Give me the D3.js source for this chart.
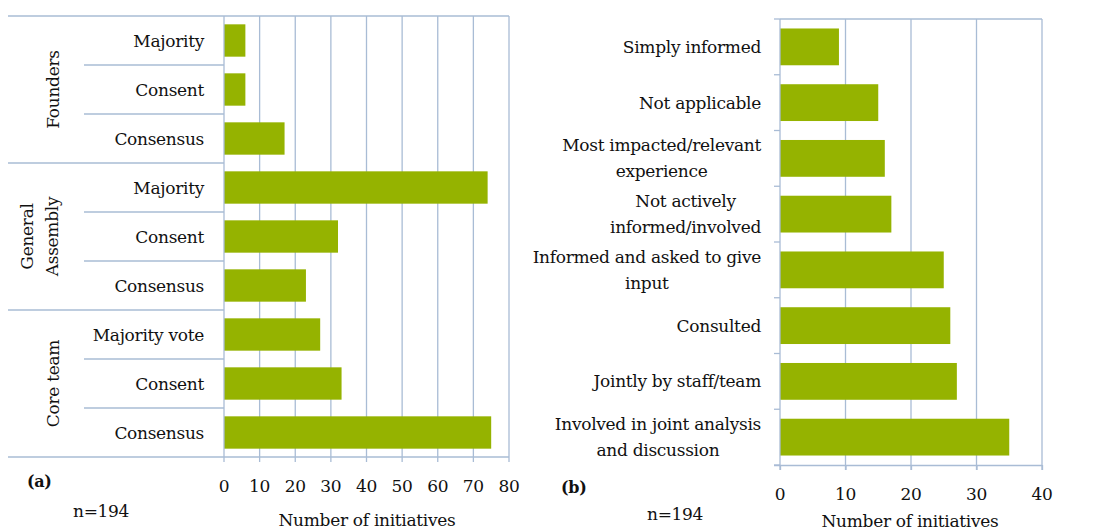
<!DOCTYPE html>
<html>
<head>
<meta charset="utf-8">
<script src="https://cdn.jsdelivr.net/npm/d3@7"></script>
<style>
	body { margin: 0; background: #ffffff; }
</style>
</head>
<body>
<svg id="chart"></svg>
<script>
// ========== DATA ==========
var groupsA = ['Founders', 'General Assembly', 'Core team'];
var methodsA = ['Majority', 'Consent', 'Consensus', 'Majority', 'Consent', 'Consensus', 'Majority vote', 'Consent', 'Consensus'];
var groupOfRowA = [0, 0, 0, 1, 1, 1, 2, 2, 2];
var valuesA = [6, 6, 17, 74, 32, 23, 27, 33, 75];
var ticksA = [0, 10, 20, 30, 40, 50, 60, 70, 80];

var labelsB = ['Simply informed', 'Not applicable', 'Most impacted/relevant|experience', 'Not actively|informed/involved',
	'Informed and asked to give|input', 'Consulted', 'Jointly by staff/team', 'Involved in joint analysis|and discussion'];
var valuesB = [9, 15, 16, 17, 25, 26, 27, 35];
var ticksB = [0, 10, 20, 30, 40];

var sampleNote = 'n=194';
var axisTitle = 'Number of initiatives';

makeChart();

function makeChart() {
	// ========== CONSTANTS ==========
	var width = 1101;
	var height = 532;
	var barColor = '#95b300';
	var gridColor = '#a9bcd5';
	var fontSize = 17;
	var fontFamily = "'DejaVu Serif', serif";

	var svg = d3.select('svg#chart')
		.attr('width', width)
		.attr('height', height)
		.style('font-family', fontFamily)
		.style('letter-spacing', '-0.3px')
		.attr('fill', '#111111');

	// ========== PANEL A ==========
	var xA = d3.scaleLinear()
		.domain([0, 80])
		.range([224, 509]);
	var yA = d3.scaleBand()
		.domain(d3.range(methodsA.length))
		.range([16, 457]);
	var barA = yA.bandwidth() * 0.66;

	var panelA = svg.append('g');

	// vertical grid lines
	panelA.selectAll('.gridA')
		.data(ticksA.slice(1))
		.enter().append('line')
		.attr('x1', function(d) { return xA(d); })
		.attr('x2', function(d) { return xA(d); })
		.attr('y1', 16)
		.attr('y2', 462)
		.attr('stroke', gridColor)
		.attr('stroke-width', 1.3);

	// bars
	panelA.selectAll('.barA')
		.data(valuesA)
		.enter().append('rect')
		.attr('x', xA(0))
		.attr('y', function(d, i) { return yA(i) + (yA.bandwidth() - barA) / 2; })
		.attr('width', function(d) { return xA(d) - xA(0); })
		.attr('height', barA)
		.attr('fill', barColor);

	// category separators
	var boundsA = d3.range(methodsA.length + 1).map(function(i) {
		return i < methodsA.length ? yA(i) : yA.range()[1];
	});
	boundsA.forEach(function(yy, i) {
		var isGroup = (i % 3 === 0);
		var isEdge = (i === 0 || i === methodsA.length);
		panelA.append('line')
			.attr('x1', isGroup ? 8 : 84)
			.attr('x2', isEdge ? xA(80) : xA(0))
			.attr('y1', yy)
			.attr('y2', yy)
			.attr('stroke', gridColor)
			.attr('stroke-width', 1.3);
	});

	// left axis line
	panelA.append('line')
		.attr('x1', xA(0)).attr('x2', xA(0))
		.attr('y1', 16).attr('y2', 462)
		.attr('stroke', gridColor)
		.attr('stroke-width', 1.3);

	panelA.selectAll('.tickA')
		.data(ticksA)
		.enter().append('text')
		.attr('x', function(d) { return xA(d); })
		.attr('y', 492)
		.attr('text-anchor', 'middle')
		.attr('font-size', fontSize)
		.text(function(d) { return d; });

	// method labels
	panelA.selectAll('.methodA')
		.data(methodsA)
		.enter().append('text')
		.attr('x', 204)
		.attr('y', function(d, i) { return yA(i) + yA.bandwidth() / 2 + 6; })
		.attr('text-anchor', 'end')
		.attr('font-size', fontSize)
		.text(function(d) { return d; });

	// rotated group labels
	groupsA.forEach(function(g, gi) {
		var rows = groupOfRowA.map(function(v, i) { return v === gi ? i : -1; }).filter(function(i) { return i >= 0; });
		var cy = (yA(rows[0]) + yA(rows[rows.length - 1]) + yA.bandwidth()) / 2;
		var lines = g === 'General Assembly' ? ['General', 'Assembly'] : [g];
		var label = panelA.append('text')
			.attr('transform', 'translate(' + (lines.length > 1 ? 33 : 59) + ',' + cy + ')rotate(-90)')
			.attr('text-anchor', 'middle')
			.attr('font-size', fontSize);
		lines.forEach(function(t, li) {
			label.append('tspan')
				.attr('x', 0)
				.attr('dy', li === 0 ? 0 : 25)
				.text(t);
		});
	});

	panelA.append('text')
		.attr('x', 27).attr('y', 487)
		.attr('font-size', 16)
		.attr('font-weight', 'bold')
		.text('(a)');
	panelA.append('text')
		.attr('x', 73).attr('y', 517)
		.attr('font-size', fontSize)
		.text(sampleNote);
	panelA.append('text')
		.attr('x', 367).attr('y', 526)
		.attr('text-anchor', 'middle')
		.attr('font-size', fontSize)
		.text(axisTitle);

	// ========== PANEL B ==========
	var xB = d3.scaleLinear()
		.domain([0, 40])
		.range([780, 1042]);
	var yB = d3.scaleBand()
		.domain(d3.range(labelsB.length))
		.range([19, 465]);
	var barB = yB.bandwidth() * 0.66;

	var panelB = svg.append('g');

	panelB.selectAll('.gridB')
		.data(ticksB.slice(1))
		.enter().append('line')
		.attr('x1', function(d) { return xB(d); })
		.attr('x2', function(d) { return xB(d); })
		.attr('y1', 19)
		.attr('y2', 470)
		.attr('stroke', gridColor)
		.attr('stroke-width', 1.3);

	// top border
	panelB.append('line')
		.attr('x1', xB(0)).attr('x2', xB(40))
		.attr('y1', 19).attr('y2', 19)
		.attr('stroke', gridColor)
		.attr('stroke-width', 1.3);

	panelB.selectAll('.barB')
		.data(valuesB)
		.enter().append('rect')
		.attr('x', xB(0))
		.attr('y', function(d, i) { return yB(i) + (yB.bandwidth() - barB) / 2; })
		.attr('width', function(d) { return xB(d) - xB(0); })
		.attr('height', barB)
		.attr('fill', barColor);

	// bottom axis
	panelB.append('g')
		.attr('transform', 'translate(0,465)')
		.call(d3.axisBottom(xB).tickValues(ticksB).tickSize(5).tickSizeOuter(0).tickFormat(''))
		.call(function(g) {
			g.select('.domain').attr('stroke', gridColor).attr('stroke-width', 1.3).attr('d', 'M774,0.5H' + xB(40));
			g.selectAll('.tick line').attr('stroke', gridColor).attr('stroke-width', 1.3);
		});

	// left axis with ticks between categories
	var boundsB = d3.range(labelsB.length + 1).map(function(i) {
		return i < labelsB.length ? yB(i) : yB.range()[1];
	});
	panelB.append('line')
		.attr('x1', xB(0)).attr('x2', xB(0))
		.attr('y1', 19).attr('y2', 470)
		.attr('stroke', gridColor)
		.attr('stroke-width', 1.3);
	panelB.selectAll('.ytickB')
		.data(boundsB)
		.enter().append('line')
		.attr('x1', 774).attr('x2', xB(0))
		.attr('y1', function(d) { return d; })
		.attr('y2', function(d) { return d; })
		.attr('stroke', gridColor)
		.attr('stroke-width', 1.3);

	panelB.selectAll('.tickB')
		.data(ticksB)
		.enter().append('text')
		.attr('x', function(d) { return xB(d); })
		.attr('y', 500)
		.attr('text-anchor', 'middle')
		.attr('font-size', fontSize)
		.text(function(d) { return d; });

	// category labels, wrapped lines centred on each other, block right aligned
	labelsB.forEach(function(lab, i) {
		var lines = lab.split('|');
		var cy = yB(i) + yB.bandwidth() / 2;
		var lineH = 26;
		var label = panelB.append('text')
			.attr('text-anchor', 'middle')
			.attr('font-size', fontSize);
		lines.forEach(function(t, li) {
			label.append('tspan')
				.attr('x', 0)
				.attr('y', cy + 6 + (li - (lines.length - 1) / 2) * lineH)
				.text(t);
		});
		var maxW = d3.max(label.selectAll('tspan').nodes(), function(n) { return n.getComputedTextLength(); });
		label.selectAll('tspan').attr('x', 761 - maxW / 2);
	});

	panelB.append('text')
		.attr('x', 561).attr('y', 493)
		.attr('font-size', 16)
		.attr('font-weight', 'bold')
		.text('(b)');
	panelB.append('text')
		.attr('x', 647).attr('y', 520)
		.attr('font-size', fontSize)
		.text(sampleNote);
	panelB.append('text')
		.attr('x', 910).attr('y', 527)
		.attr('text-anchor', 'middle')
		.attr('font-size', fontSize)
		.text(axisTitle);
}
</script>
</body>
</html>
